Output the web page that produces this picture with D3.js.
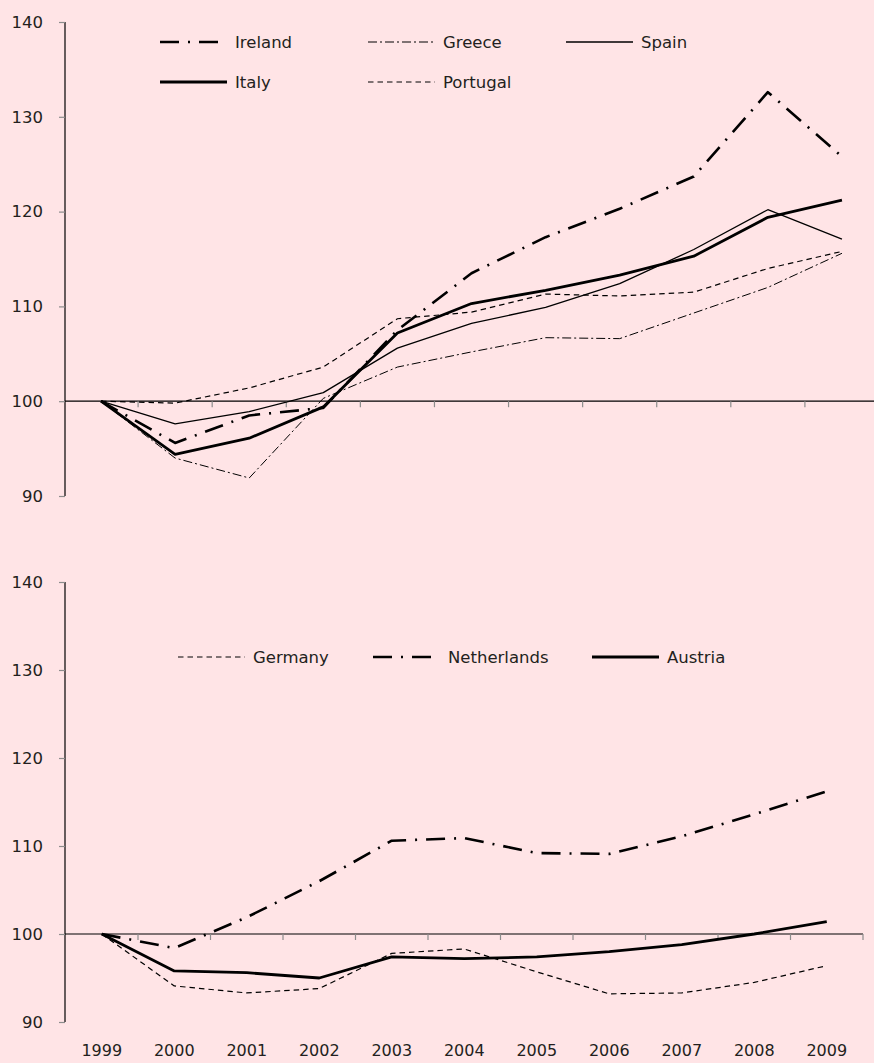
<!DOCTYPE html>
<html><head><meta charset="utf-8">
<script src="https://cdn.jsdelivr.net/npm/d3@7"></script>
<style>
html,body{margin:0;padding:0;background:#ffe4e6;}
svg{display:block;}
text{font-family:"DejaVu Sans",sans-serif;fill:#231f20;}
</style></head>
<body>
<svg id="c" width="874" height="1063"></svg>
<script>
const years = ["1999","2000","2001","2002","2003","2004","2005","2006","2007","2008","2009"];
const yTicks = [90,100,110,120,130,140];

// Top panel series
const ireland  = [100, 95.6, 98.5, 99.3, 107.5, 113.5, 117.3, 120.3, 123.7, 132.6, 125.8];
const greece   = [100, 94.0, 91.9, 100.3, 103.6, 105.2, 106.7, 106.6, 109.3, 112.0, 115.6];
const spain    = [100, 97.6, 98.9, 100.9, 105.6, 108.2, 109.9, 112.4, 116.0, 120.2, 117.1];
const italy    = [100, 94.4, 96.1, 99.4, 107.2, 110.3, 111.7, 113.3, 115.3, 119.4, 121.2];
const portugal = [100, 99.8, 101.4, 103.6, 108.7, 109.4, 111.3, 111.1, 111.5, 114.0, 115.8];

// Bottom panel series
const germany     = [100, 94.1, 93.3, 93.8, 97.8, 98.3, 95.7, 93.2, 93.3, 94.5, 96.4];
const netherlands = [100, 98.4, 101.9, 106.0, 110.6, 110.9, 109.2, 109.1, 111.1, 113.6, 116.2];
const austria     = [100, 95.8, 95.6, 95.0, 97.4, 97.2, 97.4, 98.0, 98.8, 100.0, 101.4];

const styles = {
  thickDashDot: {w:2.6, dash:"19,9,2,9"},
  thinDashDot:  {w:1.0, dash:"9,3,2,3"},
  thinSolid:    {w:1.3, dash:null},
  thickSolid:   {w:2.8, dash:null},
  thinDash:     {w:1.2, dash:"5.5,4"}
};

const topSeries = [
  {name:"Ireland", values:ireland, st:"thickDashDot", lx:160, ly:42},
  {name:"Greece", values:greece, st:"thinDashDot", lx:368, ly:42},
  {name:"Spain", values:spain, st:"thinSolid", lx:566, ly:42},
  {name:"Italy", values:italy, st:"thickSolid", lx:160, ly:82},
  {name:"Portugal", values:portugal, st:"thinDash", lx:368, ly:82}
];
const botSeries = [
  {name:"Germany", values:germany, st:"thinDash", lx:178, ly:657},
  {name:"Netherlands", values:netherlands, st:"thickDashDot", lx:373, ly:657},
  {name:"Austria", values:austria, st:"thickSolid", lx:592, ly:657}
];

const svg = d3.select("#c");

function panel(cfg){
  const x = d3.scaleBand().domain(years).range(cfg.xr).padding(0);
  const y = d3.scaleLinear().domain([90,140]).range([cfg.y90, cfg.y140]);
  const g = svg.append("g");
  // y axis
  const ya = d3.axisLeft(y).tickValues(yTicks).tickSize(6).tickPadding(16).tickFormat(d3.format("d"));
  const yg = g.append("g").attr("transform",`translate(${cfg.axisX},0)`).call(ya);
  yg.select(".domain").attr("stroke","#000").attr("stroke-width",1.2).attr("d",`M0,${cfg.y140}V${cfg.y90}`);
  yg.selectAll(".tick line").attr("stroke","#8c8c8c").attr("stroke-width",1.2);
  yg.selectAll(".tick text").style("font-size","16.5px").attr("fill","#231f20").attr("font-family","DejaVu Sans");
  // baseline at 100
  const y100 = y(100);
  g.append("line").attr("x1",cfg.axisX).attr("x2",cfg.lineEnd).attr("y1",y100).attr("y2",y100)
    .attr("stroke","#000").attr("stroke-width",1.2);
  g.selectAll(".xt").data(years.slice(cfg.tickFrom)).enter().append("line")
    .attr("x1",d=>x(d)+x.bandwidth()).attr("x2",d=>x(d)+x.bandwidth())
    .attr("y1",y100).attr("y2",y100+6).attr("stroke","#8c8c8c").attr("stroke-width",1.2);
  // lines
  const line = d3.line().x((d,i)=>x(years[i])+x.bandwidth()/2).y(d=>y(d));
  cfg.series.forEach(s=>{
    const st = styles[s.st];
    g.append("path").attr("d",line(s.values)).attr("fill","none").attr("stroke","#000")
      .attr("stroke-width",st.w).attr("stroke-dasharray",st.dash).attr("stroke-linejoin","round");
    g.append("line").attr("x1",s.lx).attr("x2",s.lx+67).attr("y1",s.ly).attr("y2",s.ly)
      .attr("stroke","#000").attr("stroke-width",st.w).attr("stroke-dasharray",st.dash);
    g.append("text").attr("x",s.lx+75).attr("y",s.ly+6).style("font-size","16.5px").text(s.name);
  });
  if(cfg.labels){
    g.selectAll(".yl").data(years).enter().append("text")
      .attr("x",d=>x(d)+x.bandwidth()/2).attr("y",1056).attr("text-anchor","middle")
      .style("font-size","16px").text(d=>d);
  }
}

panel({xr:[64,879], y90:496, y140:22, axisX:65, lineEnd:874, series:topSeries, tickFrom:0, labels:false});
panel({xr:[65.5,863], y90:1022, y140:582, axisX:65, lineEnd:863, series:botSeries, tickFrom:0, labels:true});
</script>
</body></html>
